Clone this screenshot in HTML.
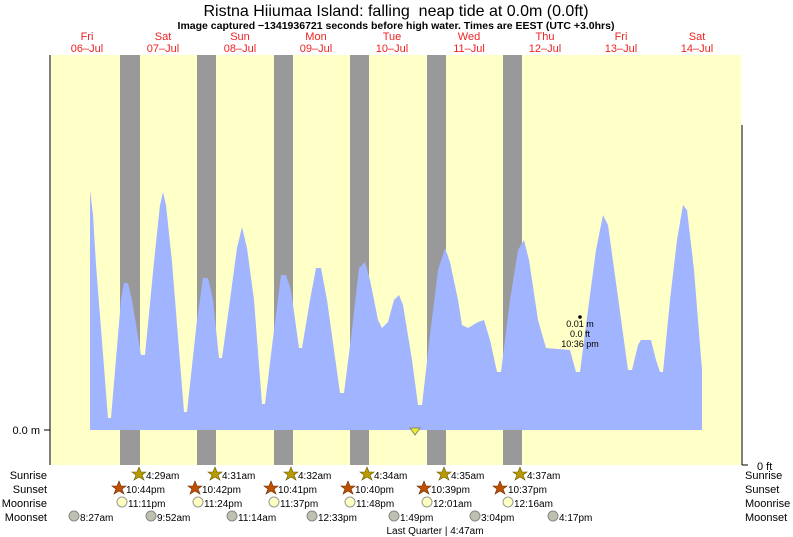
<!DOCTYPE html>
<html><head><style>body{margin:0;background:#fff}svg{display:block;font-family:"Liberation Sans",sans-serif}</style></head><body>
<svg width="793" height="537" viewBox="0 0 793 537">
<rect x="51" y="55" width="690" height="410" fill="#ffffc8"/>
<g fill="#999">
<rect x="120" y="55" width="20" height="410"/><rect x="197" y="55" width="19" height="410"/><rect x="274" y="55" width="19" height="410"/><rect x="350" y="55" width="19" height="410"/><rect x="427" y="55" width="19" height="410"/><rect x="503" y="55" width="19" height="410"/>
</g>
<polygon fill="#a0b4ff" points="90,430 90,190 93,215 96,265 108,418 111,418 121,300 124,283 128,283 132,300 141,355 145,355 154,262 160,205 163,192 166,205 172,262 184,412 187,412 197,320 203,278 208,278 213,300 219,358 222,358 230,300 237,248 242,227 247,248 254,300 262,404 265,404 274,330 281,275 286,275 291,290 299,348 302,348 310,300 316,268 321,268 327,300 340,393 344,393 352,330 359,268 365,262 370,280 378,320 382,328 388,322 394,300 399,295 403,305 412,360 418,405 422,405 430,335 438,270 445,248 450,262 458,300 462,325 468,328 478,322 484,320 490,340 497,372 501,372 510,300 518,250 524,240 529,260 538,320 546,348 570,350 576,372 580,372 588,310 596,250 603,215 608,225 617,290 628,370 632,370 638,345 641,340 651,340 656,360 660,372 663,372 670,300 677,240 683,205 687,210 694,270 702,370 702,430"/>
<line x1="50" y1="55" x2="50" y2="465" stroke="#000"/>
<line x1="742" y1="125" x2="742" y2="465" stroke="#000"/>
<line x1="742" y1="465" x2="748" y2="465" stroke="#000"/>
<line x1="44" y1="430" x2="50" y2="430" stroke="#000"/>
<text x="40" y="434" font-size="11" text-anchor="end">0.0 m</text>
<text x="757" y="470" font-size="11">0 ft</text>
<polygon points="410,428 420,428 415,435" fill="#ee3" stroke="#886" stroke-width="1"/>
<circle cx="580" cy="317" r="1.8" fill="#000"/>
<g font-size="9" text-anchor="middle"><text x="580" y="327">0.01 m</text><text x="580" y="337">0.0 ft</text><text x="580" y="347">10:36 pm</text></g>
<text x="396" y="16" font-size="16" text-anchor="middle" xml:space="preserve">Ristna Hiiumaa Island: falling  neap tide at 0.0m (0.0ft)</text>
<text x="396" y="29" font-size="10.5" font-weight="bold" text-anchor="middle">Image captured −1341936721 seconds before high water. Times are EEST (UTC +3.0hrs)</text>
<g font-size="11" fill="#e22" text-anchor="middle">
<text x="87" y="40">Fri</text><text x="87" y="52">06–Jul</text>
<text x="163" y="40">Sat</text><text x="163" y="52">07–Jul</text>
<text x="240" y="40">Sun</text><text x="240" y="52">08–Jul</text>
<text x="316" y="40">Mon</text><text x="316" y="52">09–Jul</text>
<text x="392" y="40">Tue</text><text x="392" y="52">10–Jul</text>
<text x="469" y="40">Wed</text><text x="469" y="52">11–Jul</text>
<text x="545" y="40">Thu</text><text x="545" y="52">12–Jul</text>
<text x="621" y="40">Fri</text><text x="621" y="52">13–Jul</text>
<text x="697" y="40">Sat</text><text x="697" y="52">14–Jul</text>
</g>
<g font-size="11" text-anchor="end"><text x="47" y="479">Sunrise</text><text x="47" y="493">Sunset</text><text x="47" y="507">Moonrise</text><text x="47" y="521">Moonset</text></g>
<g font-size="11"><text x="745" y="479">Sunrise</text><text x="745" y="493">Sunset</text><text x="745" y="507">Moonrise</text><text x="745" y="521">Moonset</text></g>
<g font-size="10">
<text x="146" y="479">4:29am</text><text x="222" y="479">4:31am</text><text x="298" y="479">4:32am</text><text x="374" y="479">4:34am</text><text x="451" y="479">4:35am</text><text x="527" y="479">4:37am</text>
<text x="126" y="493">10:44pm</text><text x="202" y="493">10:42pm</text><text x="278" y="493">10:41pm</text><text x="355" y="493">10:40pm</text><text x="431" y="493">10:39pm</text><text x="508" y="493">10:37pm</text>
<text x="128" y="507">11:11pm</text><text x="204" y="507">11:24pm</text><text x="280" y="507">11:37pm</text><text x="356" y="507">11:48pm</text><text x="433" y="507">12:01am</text><text x="514" y="507">12:16am</text>
<text x="80" y="521">8:27am</text><text x="157" y="521">9:52am</text><text x="238" y="521">11:14am</text><text x="318" y="521">12:33pm</text><text x="400" y="521">1:49pm</text><text x="481" y="521">3:04pm</text><text x="559" y="521">4:17pm</text>
<text x="435" y="534" text-anchor="middle">Last Quarter | 4:47am</text>
</g>
<g fill="#b89a00" stroke="#6a5a00" stroke-width="0.6">
<polygon id="s" points="0,-7 2,-2 7,-2 3,1 5,6 0,3 -5,6 -3,1 -7,-2 -2,-2" transform="translate(139,474)"/>
<use href="#s" x="76"/><use href="#s" x="152"/><use href="#s" x="228"/><use href="#s" x="305"/><use href="#s" x="381"/>
</g>
<g fill="#c05000" stroke="#6a2a00" stroke-width="0.6">
<polygon id="t" points="0,-7 2,-2 7,-2 3,1 5,6 0,3 -5,6 -3,1 -7,-2 -2,-2" transform="translate(119,488)"/>
<use href="#t" x="76"/><use href="#t" x="152"/><use href="#t" x="229"/><use href="#t" x="305"/><use href="#t" x="381"/>
</g>
<g fill="#ffffc0" stroke="#999"><circle cx="122" cy="502" r="5"/><circle cx="198" cy="502" r="5"/><circle cx="274" cy="502" r="5"/><circle cx="350" cy="502" r="5"/><circle cx="427" cy="502" r="5"/><circle cx="508" cy="502" r="5"/></g>
<g fill="#c0c0b0" stroke="#888"><circle cx="74" cy="516" r="5"/><circle cx="151" cy="516" r="5"/><circle cx="232" cy="516" r="5"/><circle cx="312" cy="516" r="5"/><circle cx="394" cy="516" r="5"/><circle cx="475" cy="516" r="5"/><circle cx="553" cy="516" r="5"/></g>
</svg>
</body></html>
